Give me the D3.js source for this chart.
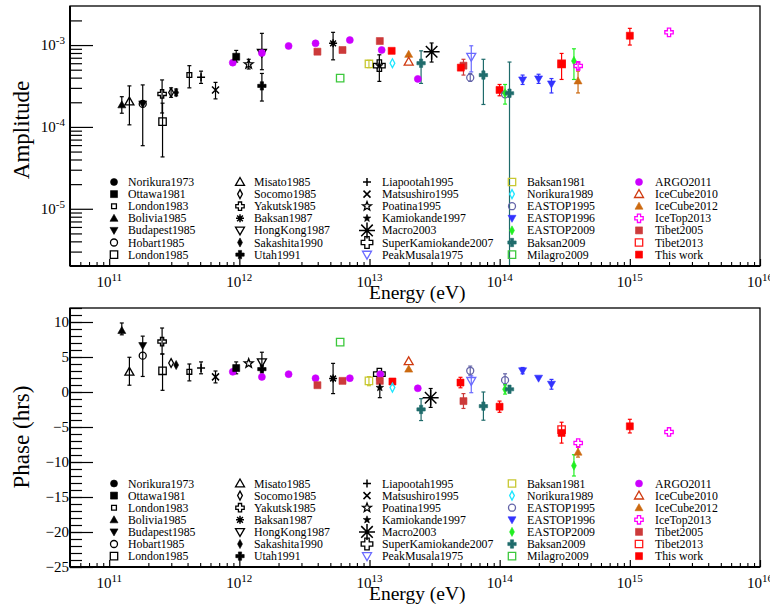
<!DOCTYPE html>
<html>
<head>
<meta charset="utf-8">
<script src="https://cdn.jsdelivr.net/npm/d3@7"></script>
<style>
body { margin: 0; background: #fff; }
svg { font-family: "Liberation Serif", "Times New Roman", serif; }
</style>
</head>
<body>
<svg id="chart" width="770" height="604"></svg>
<script>
var energyMin = 5e10, energyMax = 1e16;
var ampMin = 2e-6, ampMax = 3e-3;
var phaseMin = -25, phaseMax = 12;
var xTickExps = [11, 12, 13, 14, 15, 16];
var ampTickExps = [-5, -4, -3];
var phaseTicks = [10, 5, 0, -5, -10, -15, -20, -25];

var legendColumns = [
	["Norikura1973", "Ottawa1981", "London1983", "Bolivia1985", "Budapest1985", "Hobart1985", "London1985"],
	["Misato1985", "Socomo1985", "Yakutsk1985", "Baksan1987", "HongKong1987", "Sakashita1990", "Utah1991"],
	["Liapootah1995", "Matsushiro1995", "Poatina1995", "Kamiokande1997", "Macro2003", "SuperKamiokande2007", "PeakMusala1975"],
	["Baksan1981", "Norikura1989", "EASTOP1995", "EASTOP1996", "EASTOP2009", "Baksan2009", "Milagro2009"],
	["ARGO2011", "IceCube2010", "IceCube2012", "IceTop2013", "Tibet2005", "Tibet2013", "This work"]
];

// [experiment, energy (eV), amplitude, lower, upper]
var ampPoints = [
	["Bolivia1985", 1.25e11, 1.86e-4, 1.47e-4, 2.34e-4],
	["Misato1985", 1.43e11, 2.04e-4, 1.06e-4, 3.17e-4],
	["Hobart1985", 1.81e11, 1.91e-4, 5.9e-5, 3.26e-4],
	["Budapest1985", 1.81e11, 1.91e-4, null, null],
	["Yakutsk1985", 2.55e11, 2.53e-4, 1.48e-4, 3.75e-4],
	["London1985", 2.57e11, 1.16e-4, 4.3e-5, 1.95e-4],
	["Socomo1985", 2.99e11, 2.63e-4, 2.3e-4, 3.0e-4],
	["Sakashita1990", 3.27e11, 2.63e-4, 2.4e-4, 2.9e-4],
	["London1983", 4.13e11, 4.31e-4, 3.0e-4, 5.6e-4],
	["Liapootah1995", 5.08e11, 4.05e-4, 3.4e-4, 4.8e-4],
	["Matsushiro1995", 6.56e11, 2.83e-4, 2.2e-4, 3.5e-4],
	["ARGO2011", 8.9e11, 6.1e-4, null, null],
	["Ottawa1981", 9.46e11, 7.2e-4, 6.2e-4, 8.6e-4],
	["Poatina1995", 1.18e12, 5.83e-4, 5.1e-4, 6.7e-4],
	["HongKong1987", 1.49e12, 8.07e-4, 5.0e-4, 1.39e-3],
	["Utah1991", 1.49e12, 3.17e-4, 2.07e-4, 4.5e-4],
	["ARGO2011", 1.49e12, 8.0e-4, null, null],
	["ARGO2011", 2.39e12, 9.75e-4, null, null],
	["ARGO2011", 3.85e12, 1.05e-3, null, null],
	["Tibet2005", 3.98e12, 8.3e-4, null, null],
	["Baksan1987", 5.25e12, 1.05e-3, 6.6e-4, 1.43e-3],
	["Milagro2009", 5.95e12, 3.94e-4, null, null],
	["Tibet2005", 6.2e12, 8.7e-4, null, null],
	["ARGO2011", 7.06e12, 1.15e-3, null, null],
	["Baksan1981", 9.9e12, 5.88e-4, 5.3e-4, 6.5e-4],
	["Tibet2005", 1.2e13, 1.12e-3, null, null],
	["ARGO2011", 1.24e13, 8.7e-4, null, null],
	["SuperKamiokande2007", 1.19e13, 5.6e-4, 3.6e-4, 7.6e-4],
	["Kamiokande1997", 1.19e13, 5.6e-4, null, null],
	["This work", 1.48e13, 8.5e-4, null, null],
	["Norikura1989", 1.5e13, 6.0e-4, null, null],
	["IceCube2012", 2.0e13, 7.7e-4, null, null],
	["IceCube2010", 2.0e13, 6.26e-4, null, null],
	["ARGO2011", 2.35e13, 3.86e-4, null, null],
	["Baksan2009", 2.49e13, 6.0e-4, 3.4e-4, 8.5e-4],
	["Macro2003", 3.0e13, 8.3e-4, 6.2e-4, 1.06e-3],
	["Tibet2005", 5.27e13, 5.6e-4, 4.3e-4, 6.7e-4],
	["This work", 5.03e13, 5.3e-4, null, null],
	["PeakMusala1975", 6.05e13, 7.2e-4, 4.7e-4, 9.8e-4],
	["EASTOP1995", 5.94e13, 4.0e-4, 3.6e-4, 4.5e-4],
	["Baksan2009", 7.5e13, 4.3e-4, 1.88e-4, 6.7e-4],
	["This work", 9.98e13, 2.83e-4, 2.4e-4, 3.3e-4],
	["EASTOP1995", 1.1e14, 2.5e-4, null, null],
	["EASTOP2009", 1.1e14, 2.58e-4, 1.9e-4, 3.3e-4],
	["Baksan2009", 1.19e14, 2.58e-4, 1e-7, 6.2e-4],
	["EASTOP1996", 1.5e14, 3.75e-4, 3.3e-4, 4.3e-4],
	["EASTOP1996", 1.99e14, 3.86e-4, 3.4e-4, 4.4e-4],
	["EASTOP1996", 2.5e14, 3.35e-4, 2.6e-4, 3.9e-4],
	["Tibet2013", 2.99e14, 5.88e-4, null, null],
	["This work", 2.99e14, 5.88e-4, 3.8e-4, 7.9e-4],
	["EASTOP2009", 3.72e14, 6.4e-4, 3.8e-4, 9.0e-4],
	["IceCube2012", 4.0e14, 3.65e-4, 2.6e-4, 4.8e-4],
	["IceTop2013", 4.01e14, 5.56e-4, 5.0e-4, 6.2e-4],
	["This work", 1.0e15, 1.3e-3, 1.0e-3, 1.6e-3],
	["IceTop2013", 2.0e15, 1.43e-3, null, null]
];

// [experiment, energy (eV), phase (hrs), lower, upper]
var phasePoints = [
	["Bolivia1985", 1.25e11, 8.79, 8.17, 9.86],
	["Misato1985", 1.43e11, 2.88, 0.97, 4.96],
	["Hobart1985", 1.81e11, 5.19, 2.22, 7.98],
	["Budapest1985", 1.81e11, 6.63, null, null],
	["Yakutsk1985", 2.55e11, 7.2, 5.43, 9.14],
	["London1985", 2.57e11, 3.03, 0.24, 5.43],
	["Socomo1985", 2.99e11, 4.14, null, null],
	["Sakashita1990", 3.27e11, 3.85, null, null],
	["London1983", 4.13e11, 2.88, 1.59, 4.0],
	["Liapootah1995", 5.08e11, 3.42, 2.6, 4.3],
	["Matsushiro1995", 6.56e11, 2.16, 1.3, 3.0],
	["ARGO2011", 8.9e11, 2.88, null, null],
	["Ottawa1981", 9.46e11, 3.42, 2.6, 4.3],
	["Poatina1995", 1.18e12, 4.09, null, null],
	["HongKong1987", 1.49e12, 4.24, 3.03, 5.68],
	["Utah1991", 1.49e12, 3.27, null, null],
	["ARGO2011", 1.49e12, 2.16, null, null],
	["ARGO2011", 2.39e12, 2.55, null, null],
	["ARGO2011", 3.85e12, 1.97, null, null],
	["Tibet2005", 3.98e12, 0.97, null, null],
	["Baksan1987", 5.25e12, 1.93, -0.23, 4.09],
	["Milagro2009", 5.95e12, 7.12, null, null],
	["Tibet2005", 6.2e12, 1.59, null, null],
	["ARGO2011", 7.06e12, 1.97, null, null],
	["Baksan1981", 9.9e12, 1.59, 0.9, 2.2],
	["SuperKamiokande2007", 1.19e13, 2.55, null, null],
	["ARGO2011", 1.21e13, 2.55, null, null],
	["Tibet2005", 1.2e13, 1.59, null, null],
	["Kamiokande1997", 1.2e13, 0.63, -0.81, 1.83],
	["This work", 1.5e13, 1.5, null, null],
	["Norikura1989", 1.5e13, 0.63, null, null],
	["IceCube2010", 2.0e13, 4.38, null, null],
	["IceCube2012", 2.0e13, 3.27, null, null],
	["ARGO2011", 2.35e13, 0.53, null, null],
	["Baksan2009", 2.49e13, -2.49, -4.08, -0.95],
	["Macro2003", 2.95e13, -0.81, -2.2, 0.5],
	["This work", 5.0e13, 1.35, 0.6, 2.1],
	["Tibet2005", 5.27e13, -1.3, -2.35, -0.23],
	["EASTOP1995", 5.94e13, 3.03, 2.4, 3.7],
	["PeakMusala1975", 6.05e13, 1.59, -0.1, 2.3],
	["Baksan2009", 7.5e13, -2.02, -4.03, 0],
	["This work", 9.98e13, -2.1, -2.9, -1.3],
	["EASTOP1995", 1.1e14, 1.69, 1.0, 2.6],
	["EASTOP2009", 1.1e14, 0.39, -0.3, 1.1],
	["Baksan2009", 1.19e14, 0.39, null, null],
	["EASTOP1996", 1.5e14, 3.03, 2.6, 3.5],
	["EASTOP1996", 1.99e14, 1.97, null, null],
	["EASTOP1996", 2.5e14, 1.11, 0.4, 1.8],
	["Tibet2013", 2.99e14, -5.37, null, null],
	["This work", 2.99e14, -5.85, -7.3, -4.32],
	["EASTOP2009", 3.72e14, -10.52, -12.0, -8.96],
	["IceCube2012", 4.0e14, -8.59, -9.3, -7.8],
	["IceTop2013", 4.01e14, -7.29, null, null],
	["This work", 1.0e15, -4.9, -5.85, -3.9],
	["IceTop2013", 2.0e15, -5.71, null, null]
];

// marker kind and colour for every experiment
var expStyle = {
	"Norikura1973": ["fcircle", "#000000"],
	"Ottawa1981": ["fsquare", "#000000"],
	"London1983": ["ssquare", "#000000"],
	"Bolivia1985": ["ftriU", "#000000"],
	"Budapest1985": ["ftriD", "#000000"],
	"Hobart1985": ["ocircle", "#000000"],
	"London1985": ["osquare", "#000000"],
	"Misato1985": ["otriU", "#000000"],
	"Socomo1985": ["odiam", "#000000"],
	"Yakutsk1985": ["ocross", "#000000"],
	"Baksan1987": ["ast", "#000000"],
	"HongKong1987": ["otriD", "#000000"],
	"Sakashita1990": ["fdiam", "#000000"],
	"Utah1991": ["fcross", "#000000"],
	"Liapootah1995": ["plus", "#000000"],
	"Matsushiro1995": ["x", "#000000"],
	"Poatina1995": ["ostar", "#000000"],
	"Kamiokande1997": ["fstar", "#000000"],
	"Macro2003": ["bigast", "#000000"],
	"SuperKamiokande2007": ["ocrossL", "#000000"],
	"PeakMusala1975": ["otriD", "#6a6aff"],
	"Baksan1981": ["osquare", "#c8c832"],
	"Norikura1989": ["odiam", "#1ee6ff"],
	"EASTOP1995": ["ocircle", "#6464a8"],
	"EASTOP1996": ["ftriD", "#3232ff"],
	"EASTOP2009": ["fdiam", "#22ee22"],
	"Baksan2009": ["fcross", "#1f6b6b"],
	"Milagro2009": ["osquare", "#3cc83c"],
	"ARGO2011": ["fcircle", "#cc00ff"],
	"IceCube2010": ["otriU", "#d03a10"],
	"IceCube2012": ["ftriU", "#cc6a10"],
	"IceTop2013": ["ocross", "#ff00ff"],
	"Tibet2005": ["fsquare", "#cc3a3a"],
	"Tibet2013": ["osquare", "#ff1a1a"],
	"This work": ["fsquare", "#ff0000"]
};

// shape, filled, radius
var markerKinds = {
	fcircle: ["circle", true, 3.5],
	ocircle: ["circle", false, 3.5],
	fsquare: ["square", true, 3.5],
	ssquare: ["square", false, 2.4],
	osquare: ["square", false, 3.7],
	ftriU: ["triU", true, 4],
	ftriD: ["triD", true, 4],
	otriU: ["triU", false, 4.5],
	otriD: ["triD", false, 4.5],
	odiam: ["diam", false, 3.4],
	fdiam: ["diam", true, 3.5],
	ocross: ["cross", false, 4.2],
	fcross: ["cross", true, 4.2],
	ocrossL: ["cross", false, 5.8],
	ast: ["ast", false, 4],
	bigast: ["ast", false, 8],
	plus: ["plus", false, 4],
	x: ["x", false, 3.5],
	ostar: ["star", false, 4.7],
	fstar: ["star", true, 4]
};

function shapePath(shape, r) {
	var p = d3.path();
	if (shape == "circle") {
		p.arc(0, 0, r, 0, 2 * Math.PI);
	} else if (shape == "square") {
		p.rect(-r, -r, 2 * r, 2 * r);
	} else if (shape == "triU") {
		p.moveTo(0, -r); p.lineTo(r, r * 0.75); p.lineTo(-r, r * 0.75); p.closePath();
	} else if (shape == "triD") {
		p.moveTo(0, r); p.lineTo(r, -r * 0.75); p.lineTo(-r, -r * 0.75); p.closePath();
	} else if (shape == "diam") {
		p.moveTo(0, -r * 1.3); p.lineTo(r * 0.7, 0); p.lineTo(0, r * 1.3); p.lineTo(-r * 0.7, 0); p.closePath();
	} else if (shape == "cross") {
		var a = r * 0.38;
		var pts = [[-a, -r], [a, -r], [a, -a], [r, -a], [r, a], [a, a], [a, r], [-a, r], [-a, a], [-r, a], [-r, -a], [-a, -a]];
		p.moveTo(pts[0][0], pts[0][1]);
		pts.slice(1).forEach(function(q) { p.lineTo(q[0], q[1]); });
		p.closePath();
	} else if (shape == "star") {
		for (var i = 0; i < 10; i++) {
			var rr = i % 2 == 0 ? r : r * 0.42;
			var ang = -Math.PI / 2 + i * Math.PI / 5;
			if (i == 0) p.moveTo(rr * Math.cos(ang), rr * Math.sin(ang));
			else p.lineTo(rr * Math.cos(ang), rr * Math.sin(ang));
		}
		p.closePath();
	} else if (shape == "plus") {
		p.moveTo(-r, 0); p.lineTo(r, 0); p.moveTo(0, -r); p.lineTo(0, r);
	} else if (shape == "x") {
		p.moveTo(-r, -r); p.lineTo(r, r); p.moveTo(-r, r); p.lineTo(r, -r);
	} else if (shape == "ast") {
		var d = r * 0.72;
		p.moveTo(-r, 0); p.lineTo(r, 0); p.moveTo(0, -r); p.lineTo(0, r);
		p.moveTo(-d, -d); p.lineTo(d, d); p.moveTo(-d, d); p.lineTo(d, -d);
	}
	return p.toString();
}

function drawMarker(g, name, cx, cy) {
	var st = expStyle[name];
	var kind = markerKinds[st[0]];
	var lineOnly = kind[0] == "plus" || kind[0] == "x" || kind[0] == "ast";
	g.append("path")
		.attr("d", shapePath(kind[0], kind[2]))
		.attr("transform", "translate(" + cx + "," + cy + ")")
		.attr("fill", kind[1] ? st[1] : "none")
		.attr("stroke", st[1])
		.attr("stroke-width", kind[1] ? 0.6 : (lineOnly ? 1.5 : 1.3));
}

var svg = d3.select("#chart");
var xScale = d3.scaleLog().domain([energyMin, energyMax]).range([70, 760]);

var xMinor = [];
for (var n = 10; n <= 15; n++) {
	for (var k = 2; k <= 9; k++) {
		var v = k * Math.pow(10, n);
		if (v > energyMin && v < energyMax) xMinor.push(v);
	}
}

function drawPanel(id, top, bottom, yScale, points, legendTop) {
	var g = svg.append("g");

	g.append("clipPath").attr("id", "clip" + id).append("rect")
		.attr("x", 70).attr("y", top).attr("width", 690).attr("height", bottom - top);

	// x axis ticks (inside)
	g.append("g").attr("transform", "translate(0," + bottom + ")")
		.call(d3.axisBottom(xScale).tickValues(xMinor).tickSizeInner(-4).tickSizeOuter(0).tickFormat(""))
		.call(function(a) { a.select(".domain").remove(); a.selectAll("line").attr("stroke-width", 1.1); });
	var xMajor = g.append("g").attr("transform", "translate(0," + bottom + ")")
		.call(d3.axisBottom(xScale).tickValues(xTickExps.map(function(e) { return Math.pow(10, e); }))
			.tickSizeInner(-7).tickSizeOuter(0).tickPadding(10).tickFormat(""));
	xMajor.select(".domain").remove();
	xMajor.selectAll("line").attr("stroke-width", 1.2);

	g.selectAll(".xlab").data(xTickExps).enter().append("text")
		.attr("x", function(d) { return xScale(Math.pow(10, d)); })
		.attr("y", bottom + 21)
		.attr("text-anchor", "middle")
		.attr("font-size", "15px")
		.each(function(d) {
			var t = d3.select(this);
			t.append("tspan").text("10");
			t.append("tspan").attr("dy", -6).attr("font-size", "11px").text(d);
		});

	g.append("text").attr("x", 369).attr("y", bottom + 33)
		.attr("font-size", "19.5px").text("Energy (eV)");

	// data
	var dg = g.append("g").attr("clip-path", "url(#clip" + id + ")");
	points.forEach(function(p) {
		var cx = xScale(p[1]);
		var col = expStyle[p[0]][1];
		if (p[3] != null) {
			var y1 = yScale(p[3]), y2 = yScale(p[4]);
			dg.append("line").attr("x1", cx).attr("x2", cx).attr("y1", y1).attr("y2", y2)
				.attr("stroke", col).attr("stroke-width", 1.2);
			[y1, y2].forEach(function(yy) {
				dg.append("line").attr("x1", cx - 2).attr("x2", cx + 2).attr("y1", yy).attr("y2", yy)
					.attr("stroke", col).attr("stroke-width", 1.2);
			});
		}
	});
	points.forEach(function(p) {
		drawMarker(dg, p[0], xScale(p[1]), yScale(p[2]));
	});

	// legend
	var markerX = [114, 240, 367, 512, 639];
	var textX = [128, 254, 382, 527, 655];
	legendColumns.forEach(function(col, c) {
		col.forEach(function(name, i) {
			var yy = legendTop + i * 12.1;
			drawMarker(g, name, markerX[c], yy);
			g.append("text").attr("x", textX[c]).attr("y", yy)
				.attr("dominant-baseline", "central")
				.attr("font-size", "11.8px")
				.text(name);
		});
	});

	// frame
	g.append("rect").attr("x", 70).attr("y", top).attr("width", 690).attr("height", bottom - top)
		.attr("fill", "none").attr("stroke", "#000").attr("stroke-width", 1.3);
	g.append("line").attr("x1", 70).attr("x2", 760).attr("y1", bottom).attr("y2", bottom)
		.attr("stroke", "#000").attr("stroke-width", 2);
	g.append("line").attr("x1", 70).attr("x2", 70).attr("y1", top).attr("y2", bottom)
		.attr("stroke", "#000").attr("stroke-width", 2);
	return g;
}

// amplitude panel
var yAmp = d3.scaleLog().domain([ampMin, ampMax]).range([266, 6]);
var gA = drawPanel("A", 6, 266, yAmp, ampPoints, 182);
var ampMinor = [];
for (var n = -6; n <= -3; n++) {
	for (var k = 2; k <= 9; k++) {
		var v = k * Math.pow(10, n);
		if (v > ampMin && v < ampMax) ampMinor.push(v);
	}
}
gA.append("g").attr("transform", "translate(70,0)")
	.call(d3.axisLeft(yAmp).tickValues(ampMinor).tickSizeInner(-12).tickSizeOuter(0).tickFormat(""))
	.call(function(a) { a.select(".domain").remove(); a.selectAll("line").attr("stroke-width", 1.2); });
gA.append("g").attr("transform", "translate(70,0)")
	.call(d3.axisLeft(yAmp).tickValues(ampTickExps.map(function(e) { return Math.pow(10, e); }))
		.tickSizeInner(-23).tickSizeOuter(0).tickFormat(""))
	.call(function(a) { a.select(".domain").remove(); a.selectAll("line").attr("stroke-width", 1.2); });
gA.selectAll(".ylab").data(ampTickExps).enter().append("text")
	.attr("x", 65)
	.attr("y", function(d) { return yAmp(Math.pow(10, d)) + 5; })
	.attr("text-anchor", "end")
	.attr("font-size", "15px")
	.each(function(d) {
		var t = d3.select(this);
		t.append("tspan").text("10");
		t.append("tspan").attr("dy", -6).attr("font-size", "11px").text(d);
	});
gA.append("text").attr("transform", "translate(21,130) rotate(-90)")
	.attr("text-anchor", "middle").attr("dominant-baseline", "central")
	.attr("font-size", "23px").text("Amplitude");

// phase panel
var yPhase = d3.scaleLinear().domain([phaseMin, phaseMax]).range([567, 308]);
var gP = drawPanel("P", 308, 567, yPhase, phasePoints, 483.5);
gP.append("g").attr("transform", "translate(70,0)")
	.call(d3.axisLeft(yPhase).tickValues(d3.range(phaseMin, phaseMax + 1)).tickSizeInner(-12).tickSizeOuter(0).tickFormat(""))
	.call(function(a) { a.select(".domain").remove(); a.selectAll("line").attr("stroke-width", 1.2); });
gP.append("g").attr("transform", "translate(70,0)")
	.call(d3.axisLeft(yPhase).tickValues(phaseTicks).tickSizeInner(-23).tickSizeOuter(0).tickPadding(1)
		.tickFormat(d3.format("d")))
	.call(function(a) {
		a.select(".domain").remove();
		a.selectAll("line").attr("stroke-width", 1.2);
		a.selectAll("text").attr("font-size", "15px").attr("font-family", "Liberation Serif, serif");
	});
gP.append("text").attr("transform", "translate(21,437) rotate(-90)")
	.attr("text-anchor", "middle").attr("dominant-baseline", "central")
	.attr("font-size", "23px").text("Phase (hrs)");
</script>
</body>
</html>
